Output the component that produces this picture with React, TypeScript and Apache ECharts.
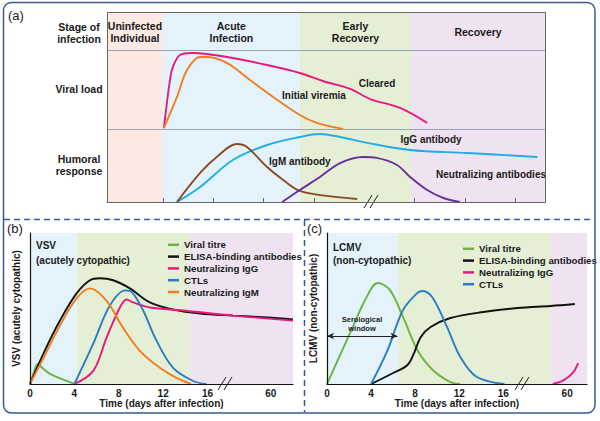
import React, { useEffect, useRef } from 'react';
import * as echarts from 'echarts';

const FONT = '"Liberation Sans", Arial, Helvetica, sans-serif';
const LBL = (s: number) => ({ fontFamily: FONT, fontWeight: 'bold', fontSize: s, color: '#1a1a1a' });

// ---------- Panel (a): schematic, x in time units (4 = axis break), y = relative level 0-100
const aTicks = [0, 1, 2, 3, 5, 6, 7];
const aStageNames = ['Uninfected\nIndividual', 'Acute\nInfection', 'Early\nRecovery', 'Recovery'];
const aStageBounds = [-1.11, 0, 2.72, 4.93, 7.59];
const aRowLines = [80, 38.4];
const aCleared = [[0.02, 38.9], [0.14, 64.2], [0.2, 71.1], [0.34, 77.4], [0.58, 78.4], [0.87, 77.9], [1.39, 75.8], [2.07, 72.1], [2.72, 67.9], [3.18, 63.7], [3.72, 59.5], [4.12, 54.2], [4.71, 49.5], [5.25, 41.6]];
const aViremia = [[0.02, 38.9], [0.28, 55.3], [0.48, 69.5], [0.74, 76.3], [0.87, 76.3], [1.27, 73.2], [1.73, 64.2], [2.19, 55.3], [2.72, 45.8], [3.06, 41.6], [3.58, 38.4]];
const aIgG = [[0.28, 0], [0.74, 7.9], [1.39, 22.1], [2.07, 30], [2.72, 34.2], [3.12, 35.8], [3.52, 34.2], [4.06, 31.1], [4.91, 27.4], [6.04, 25.8], [7.44, 23.7]];
const aIgM = [[0.28, 0], [0.74, 15.3], [1.07, 23.7], [1.47, 30.5], [1.67, 28.9], [2.07, 18.4], [2.39, 11.6], [2.72, 5.8], [3.26, 3.2], [3.86, 1.6]];
const aNeut = [[2.37, 0], [2.72, 6.3], [3.12, 13.2], [3.52, 20.5], [3.98, 23.7], [4.25, 23.2], [4.65, 19.5], [4.91, 13.2], [5.25, 6.3], [5.57, 2.1], [5.9, 0]];

// ---------- Panel (b): VSV, x = days (after 16 the axis is broken, 21.7 = day 60)
const bTicks = [0, 4, 8, 12, 16, 21.7];
const bTickLabels = ['0', '4', '8', '12', '16', '60'];
const bStageBounds = [0, 4.2, 14.4, 23.7];
const bViral = [[0, 0], [0.3, 6.7], [0.7, 13.3], [1.1, 10.7], [1.8, 6.7], [3.3, 2], [4, 0]];
const bElisa = [[0, 0], [1.2, 20], [2.7, 42], [4.2, 60], [5.4, 68.7], [6.3, 70], [7.5, 68.7], [9.0, 63.3], [10.8, 54], [12.9, 49.3], [15.3, 46.7], [18.3, 45.3], [21.4, 44], [23.7, 42.7]];
const bNeutIgG = [[4, 0], [5.7, 8.7], [6.9, 30.7], [8.1, 50.7], [8.7, 56], [9.3, 54], [10.8, 50.7], [13.8, 48.7], [18.3, 45.3], [23.7, 42]];
const bCTL = [[4, 0], [5.7, 26.7], [7.2, 52], [8.6, 62], [9.2, 60.7], [10.2, 48.7], [11.4, 28.7], [12.9, 10.7], [14.7, 2], [15.9, 0]];
const bNeutIgM = [[0, 0], [1.2, 17], [2.7, 38.7], [4.2, 56.7], [5.4, 63.3], [6.9, 55], [8.4, 37], [9.9, 22], [11.7, 10.7], [13.2, 4], [14.5, 0]];

// ---------- Panel (c): LCMV
const cTicks = [0, 4, 8, 12, 16, 21.8];
const cTickLabels = ['0', '4', '8', '12', '16', '60'];
const cStageBounds = [0, 6.45, 20.3, 23.6];
const cViral = [[0, 0], [2.1, 33.8], [3.6, 57.6], [4.6, 66.9], [5.7, 62.3], [6.9, 44.4], [8.2, 22.5], [9.6, 9.3], [11.2, 1.3], [12.1, 0]];
const cCTL = [[4, 0], [5.5, 22.5], [6.9, 49], [8.2, 60.3], [8.7, 61.6], [9.6, 57], [10.9, 37.7], [12.1, 17.9], [13.6, 4.6], [16.1, 0]];
const cElisa = [[4, 0], [6, 7.3], [7.3, 12.6], [7.9, 20.5], [8.5, 31], [9.4, 37.7], [11.2, 43.7], [14.2, 47.7], [17.3, 50.3], [20.3, 51.7], [22.5, 53]];
const cNeutIgG = [[20.5, 0], [21.5, 2.6], [22.3, 7.3], [22.8, 13.9]];
const cWindow = [0, 6.4, 31.8];

const C = {
  pink: '#e8197d', orange: '#f47c20', lightBlue: '#1eaee8', brown: '#8a4b22', purple: '#6b2d9b',
  green: '#6db33f', black: '#111111', blue: '#2b7cc4',
};
const BG = { pink: '#fce9e4', blue: '#e4f3fb', green: '#e4efd6', purple: '#efe3f1' };
const FRAME = '#34589a';

function line(name: string, data: number[][], color: string, idx: number) {
  return {
    type: 'line', name, data, xAxisIndex: idx, yAxisIndex: idx, smooth: 0.35,
    showSymbol: false, symbol: 'none', silent: true, z: 3,
    lineStyle: { color, width: 1.9 }, itemStyle: { color },
  };
}

function bgSeries(idx: number, bounds: number[], colors: string[], extra: any = {}, labels?: string[]) {
  const areas = colors.map((c, i) => [
    {
      xAxis: bounds[i], itemStyle: { color: c },
      ...(labels ? { name: labels[i], label: { distance: labels[i].includes('\n') ? 8 : 14 } } : {}),
    },
    { xAxis: bounds[i + 1] },
  ]);
  return {
    type: 'line', data: [[bounds[0], 0]], xAxisIndex: idx, yAxisIndex: idx, symbol: 'none',
    lineStyle: { opacity: 0 }, silent: true, z: 1,
    markArea: {
      silent: true,
      label: labels
        ? { show: true, position: 'insideTop', ...LBL(10.5), lineHeight: 12, align: 'center' }
        : { show: false },
      data: areas,
    },
    ...extra,
  };
}

function txt(text: string, x: number, y: number, size: number, align = 'left', weight = 'bold', lh = 12) {
  return {
    type: 'text', x, y, z: 20, silent: true,
    style: {
      text, font: `${weight} ${size}px ${FONT}`, fill: '#1a1a1a', align, textAlign: align,
      verticalAlign: 'middle', textVerticalAlign: 'middle', lineHeight: lh,
    },
  };
}

function brk(x: number, y: number) {
  return [0, 6].map((d) => ({
    type: 'line', z: 20, silent: true,
    shape: { x1: x + d, y1: y + 6, x2: x + d + 8, y2: y - 7 },
    style: { stroke: '#222', lineWidth: 1 },
  }));
}

const legendBase = {
  orient: 'vertical', itemWidth: 11, itemHeight: 2.5, icon: 'rect', itemGap: 0.2,
  textStyle: { ...LBL(9.7), lineHeight: 11.6 }, selectedMode: false,
};

function valueFmt(ticks: number[], labels: string[]) {
  return (v: number) => {
    const i = ticks.findIndex((t) => Math.abs(t - v) < 1e-6);
    return i >= 0 ? labels[i] : '';
  };
}

function xAxisBC(idx: number, max: number, ticks: number[], labels: string[]) {
  return {
    type: 'value', gridIndex: idx, min: 0, max, z: 10,
    axisLine: { show: true, lineStyle: { color: '#111', width: 1.2 } },
    axisTick: { show: false },
    axisLabel: { show: true, customValues: ticks, formatter: valueFmt(ticks, labels), ...LBL(10), margin: 4 },
    splitLine: { show: false },
    name: 'Time (days after infection)', nameLocation: 'middle', nameGap: 14,
    nameTextStyle: LBL(10),
  };
}

function yAxisBC(idx: number, name: string) {
  return {
    type: 'value', gridIndex: idx, min: 0, max: 100, z: 10,
    axisLine: { show: true, lineStyle: { color: '#111', width: 1.2 } },
    axisTick: { show: false }, axisLabel: { show: false }, splitLine: { show: false },
    name, nameLocation: 'middle', nameGap: 9, nameTextStyle: LBL(10),
  };
}

export default function App() {
  const ref = useRef<HTMLDivElement>(null);
  useEffect(() => {
    const chart = echarts.init(ref.current!, null, { renderer: 'svg' });
    const option: any = {
      animation: false,
      backgroundColor: '#ffffff',
      grid: [
        { left: 107, top: 12, width: 438, height: 190 },
        { left: 30, top: 233, width: 263, height: 151 },
        { left: 327, top: 233, width: 260, height: 151 },
      ],
      xAxis: [
        {
          type: 'value', gridIndex: 0, min: aStageBounds[0], max: aStageBounds[4], z: 10,
          axisLine: { show: true, lineStyle: { color: '#666', width: 1 } },
          axisTick: { show: true, inside: true, length: 4, customValues: aTicks, lineStyle: { color: '#666' } },
          axisLabel: { show: false }, splitLine: { show: false },
        },
        xAxisBC(1, bStageBounds[3], bTicks, bTickLabels),
        xAxisBC(2, cStageBounds[3], cTicks, cTickLabels),
      ],
      yAxis: [
        { type: 'value', gridIndex: 0, min: 0, max: 100, show: false },
        yAxisBC(1, 'VSV (acutely cytopathic)'),
        yAxisBC(2, 'LCMV (non-cytopathic)'),
      ],
      legend: [
        { ...legendBase, left: 163, top: 234, data: ['Viral titre', 'ELISA-binding antibodies', 'Neutralizing IgG', 'CTLs', 'Neutralizing IgM'] },
        { ...legendBase, left: 458, top: 238, data: ['Viral titre', 'ELISA-binding antibodies', 'Neutralizing IgG', 'CTLs'] },
      ],
      series: [
        bgSeries(0, aStageBounds, [BG.pink, BG.blue, BG.green, BG.purple], {
          markLine: {
            silent: true, symbol: 'none', label: { show: false },
            lineStyle: { color: '#9ba3b3', width: 1, type: 'solid' },
            data: aRowLines.map((v) => ({ yAxis: v })),
          },
        }, aStageNames),
        line('Cleared', aCleared, C.pink, 0),
        line('Initial viremia', aViremia, C.orange, 0),
        line('IgG antibody', aIgG, C.lightBlue, 0),
        line('IgM antibody', aIgM, C.brown, 0),
        line('Neutralizing antibodies', aNeut, C.purple, 0),

        bgSeries(1, bStageBounds, [BG.blue, BG.green, BG.purple]),
        line('Viral titre', bViral, C.green, 1),
        line('ELISA-binding antibodies', bElisa, C.black, 1),
        line('Neutralizing IgG', bNeutIgG, C.pink, 1),
        line('CTLs', bCTL, C.blue, 1),
        line('Neutralizing IgM', bNeutIgM, C.orange, 1),

        bgSeries(2, cStageBounds, [BG.blue, BG.green, BG.purple], {
          markLine: {
            silent: true, symbol: ['arrow', 'arrow'], symbolSize: [5, 7], label: { show: false },
            lineStyle: { color: '#222', width: 1, type: 'solid' },
            data: [[{ coord: [cWindow[0], cWindow[2]] }, { coord: [cWindow[1], cWindow[2]] }]],
          },
        }),
        line('Viral titre', cViral, C.green, 2),
        line('ELISA-binding antibodies', cElisa, C.black, 2),
        line('Neutralizing IgG', cNeutIgG, C.pink, 2),
        line('CTLs', cCTL, C.blue, 2),
      ],
      graphic: [
        { type: 'rect', z: 30, silent: true, shape: { x: 3.5, y: 2.5, width: 591.5, height: 410.5, r: 8 }, style: { fill: 'none', stroke: FRAME, lineWidth: 1.5 } },
        { type: 'line', z: 30, silent: true, shape: { x1: 4, y1: 219.5, x2: 594, y2: 219.5 }, style: { stroke: FRAME, lineWidth: 1.5, lineDash: [6, 4] } },
        { type: 'line', z: 30, silent: true, shape: { x1: 304.5, y1: 220, x2: 304.5, y2: 412 }, style: { stroke: FRAME, lineWidth: 1.5, lineDash: [6, 4] } },
        { type: 'rect', z: 25, silent: true, shape: { x: 107.5, y: 12.5, width: 438, height: 190 }, style: { fill: 'none', stroke: '#666', lineWidth: 1 } },
        txt('(a)', 8, 15, 13, 'left', 'normal'),
        txt('(b)', 7, 228, 13, 'left', 'normal'),
        txt('(c)', 307, 228, 13, 'left', 'normal'),
        txt('Stage of\ninfection', 79, 33, 10.5, 'center'),
        txt('Viral load', 79, 89, 10.5, 'center'),
        txt('Humoral\nresponse', 79, 165, 10.5, 'center'),
        txt('Cleared', 377, 83, 10, 'center'),
        txt('Initial viremia', 282, 95, 10, 'left'),
        txt('IgG antibody', 431, 139, 10, 'center'),
        txt('IgM antibody', 269, 161, 10, 'left'),
        txt('Neutralizing antibodies', 436, 174, 10, 'left'),
        ...brk(364, 202),
        txt('VSV', 36, 245, 10, 'left'),
        txt('(acutely cytopathic)', 36, 260, 10, 'left'),
        ...brk(218, 384),
        txt('LCMV', 333, 247, 10, 'left'),
        txt('(non-cytopathic)', 333, 260, 10, 'left'),
        txt('Serological\nwindow', 362, 324, 7.5, 'center', 'bold', 9.5),
        ...brk(515, 384),
      ],
    };
    chart.setOption(option);
    return () => chart.dispose();
  }, []);
  return <div ref={ref} style={{ position: 'fixed', left: 0, top: 0, width: 600, height: 421 }} />;
}
